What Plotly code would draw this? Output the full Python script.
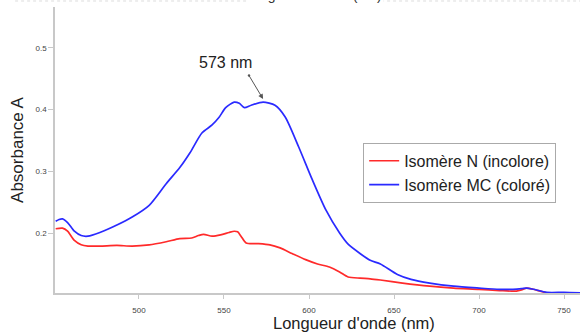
import plotly.graph_objects as go

# ---- data ----
wl_mc = [451, 453, 455, 458, 462, 466, 470, 477, 487, 496, 506, 516, 524, 530, 537, 543, 547, 551,
         556, 559, 562, 566, 573, 580, 586, 594, 602, 610, 618, 623, 630, 636, 642, 652, 660, 671,
         685, 700, 712, 720, 725, 728, 732, 740, 750, 760]
abs_mc = [0.219, 0.222, 0.223, 0.217, 0.203, 0.196, 0.195, 0.201, 0.213, 0.226, 0.245, 0.280,
          0.306, 0.330, 0.362, 0.375, 0.387, 0.403, 0.412, 0.410, 0.403, 0.407, 0.412, 0.407,
          0.388, 0.339, 0.286, 0.237, 0.200, 0.182, 0.167, 0.156, 0.150, 0.133, 0.125, 0.119,
          0.114, 0.111, 0.109, 0.109, 0.110, 0.111, 0.109, 0.104, 0.104, 0.103]

wl_n = [451, 455, 458, 462, 466, 470, 477, 487, 496, 506, 516, 524, 531, 535, 538, 543, 548, 553,
        556, 558, 560, 563, 570, 577, 583, 590, 598, 605, 612, 618, 623, 630, 636, 642, 655, 671,
        685, 700, 712, 722, 725, 728, 732, 736, 740]
abs_n = [0.207, 0.208, 0.203, 0.188, 0.181, 0.179, 0.179, 0.180, 0.179, 0.181, 0.186, 0.191,
         0.192, 0.196, 0.198, 0.195, 0.197, 0.201, 0.203, 0.202, 0.195, 0.184, 0.183, 0.181,
         0.176, 0.167, 0.157, 0.150, 0.145, 0.137, 0.129, 0.127, 0.126, 0.124, 0.119, 0.114,
         0.111, 0.109, 0.107, 0.106, 0.108, 0.111, 0.109, 0.106, 0.103]

x_ticks = [500, 550, 600, 650, 700, 750]
y_ticks = [0.2, 0.3, 0.4, 0.5]
peak_wl = 573
peak_abs = 0.417
peak_label = "573 nm"
x_title = "Longueur d'onde (nm)"
y_title = "Absorbance A"
top_title = "longueur d'onde (nm)"

FONT = "Liberation Sans, Arial, sans-serif"

fig = go.Figure()
fig.add_trace(go.Scatter(x=wl_n, y=abs_n, mode="lines", name="Isomère N (incolore)",
                         line=dict(color="#ff2a2a", width=1.7, shape="spline", smoothing=0.7)))
fig.add_trace(go.Scatter(x=wl_mc, y=abs_mc, mode="lines", name="Isomère MC (coloré)",
                         line=dict(color="#2a2aff", width=1.7, shape="spline", smoothing=0.7)))

fig.update_layout(
    width=580, height=334,
    margin=dict(l=55, r=0, t=7, b=41),
    paper_bgcolor="white", plot_bgcolor="white",
    font=dict(family=FONT, color="#222"),
    showlegend=True,
    legend=dict(x=0.587, y=0.525, xanchor="left", yanchor="top",
                bgcolor="white", bordercolor="#aaaaaa", borderwidth=1,
                font=dict(size=16, color="#222"), tracegroupgap=0,
                itemwidth=30),
    xaxis=dict(range=[450.6, 759.4], tickvals=x_ticks, showgrid=False, zeroline=False,
               automargin=False,
               showline=True, linecolor="#c8c8c8", linewidth=1.5,
               ticks="outside", ticklen=4, tickcolor="#c8c8c8", tickwidth=1,
               ticklabelstandoff=5,
               tickfont=dict(size=8, color="#444")),
    yaxis=dict(range=[0.103, 0.566], tickvals=y_ticks, tickformat=".1f", showgrid=False, zeroline=False,
               automargin=False,
               showline=True, linecolor="#c8c8c8", linewidth=1.5,
               ticks="outside", ticklen=5, tickcolor="#c8c8c8", tickwidth=1,
               tickfont=dict(size=8, color="#444"),
               title=dict(text=y_title, font=dict(size=17, color="#222"), standoff=8)),
)

# x-axis title (off-centre, as in the reference)
fig.add_annotation(x=(353.5 - 55) / 525, y=(293 - 323) / 286, xref="paper", yref="paper",
                   text=x_title, showarrow=False, yanchor="middle",
                   font=dict(size=16.5, color="#222"))

# peak label and arrow
fig.add_annotation(x=550.6, y=0.4755, xref="x", yref="y", text=peak_label, showarrow=False,
                   font=dict(size=16, color="#222"))
fig.add_annotation(x=peak_wl, y=peak_abs, xref="x", yref="y", text="", showarrow=True,
                   ax=-15, ay=-25, arrowhead=2, arrowsize=1, arrowwidth=1, arrowcolor="#555",
                   arrowside="end+start", startarrowhead=6, startarrowsize=0.6)

# dotted line and cropped title at the very top
fig.add_shape(type="line", xref="paper", yref="paper", x0=-0.076, x1=1, y0=1.021, y1=1.021,
              line=dict(color="#dddddd", width=1, dash="dot"))
fig.add_annotation(x=(315 - 55) / 525, y=(293 - 5) / 286, xref="paper", yref="paper",
                   text=top_title, showarrow=False, yanchor="bottom", bgcolor="white",
                   font=dict(size=14, color="#333"))

fig.write_html("out.html", config={"displayModeBar": False},
               post_script="document.body.style.margin='0';")
